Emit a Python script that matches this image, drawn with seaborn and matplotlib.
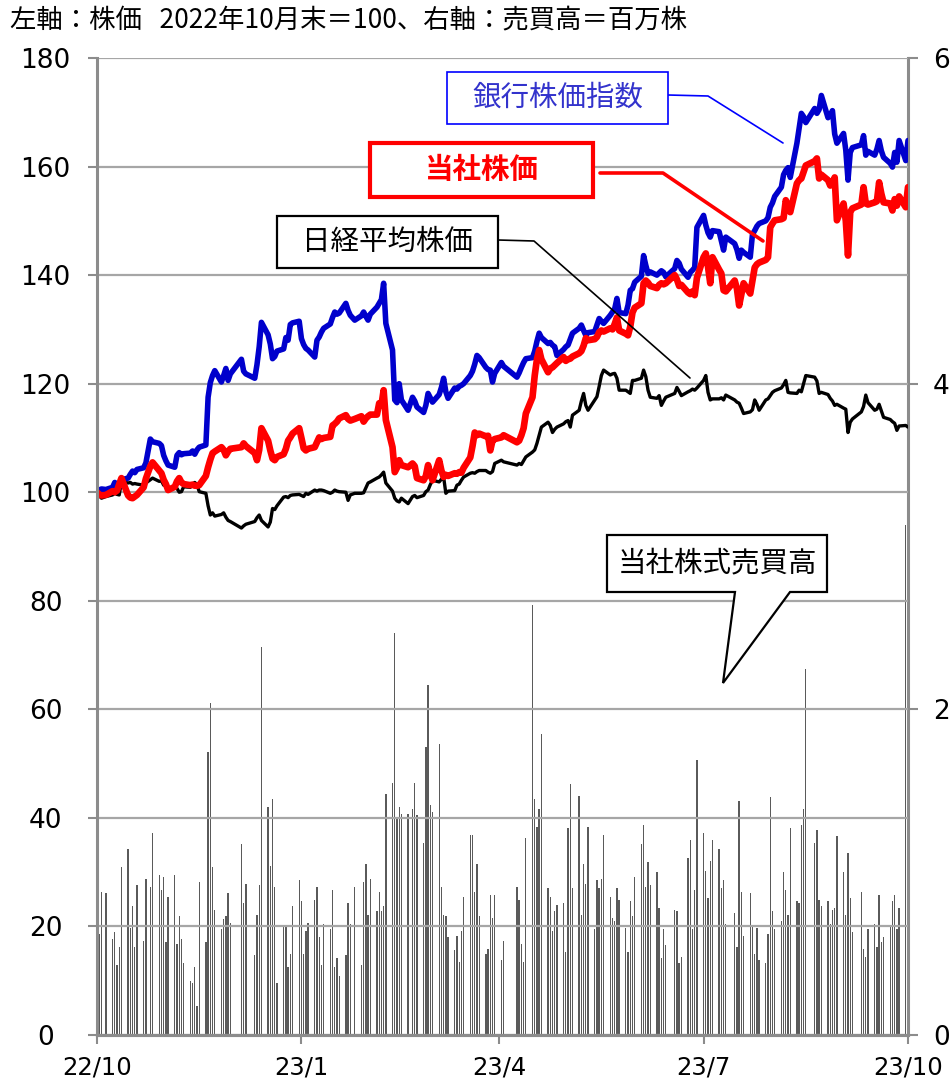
import matplotlib
matplotlib.use("Agg")
import matplotlib.pyplot as plt
from matplotlib.patches import Rectangle, Polygon
from matplotlib.lines import Line2D
import pandas as pd
import seaborn as sns

# Weekday closures of the Tokyo market in the period
market_holidays = [
    "2022-11-03", "2022-11-23", "2023-01-02", "2023-01-03", "2023-01-09",
    "2023-02-23", "2023-03-21", "2023-05-03", "2023-05-04", "2023-05-05",
    "2023-07-17", "2023-08-11", "2023-09-18", "2023-10-09",
]
trade_dates = pd.bdate_range("2022-10-31", "2023-10-31", freq="C",
                             holidays=market_holidays)

# Bank share index, end of Oct 2022 = 100 (one row per month)
bank_index = [
    100.0,
    100.4, 100.6, 100.5, 100.9, 101.8, 101.4, 101.0, 102.3, 102.6, 103.3, 103.9, 103.6, 104.2, 104.5, 105.4, 109.8, 109.3, 109.0, 108.6, 106.8,
    105.8, 105.0, 104.6, 106.8, 107.3, 106.9, 107.1, 107.2, 107.6, 107.0, 107.8, 108.3, 108.7, 117.5, 120.2, 121.5, 122.4, 120.3, 121.5, 122.8, 120.6, 121.8,
    124.5, 122.3, 121.8, 121.0, 123.5, 126.8, 131.3, 129.0, 127.3, 124.6, 125.0, 126.0, 126.4, 128.5, 128.0, 130.9, 131.2, 131.5, 128.3,
    127.2, 126.5, 126.2, 124.9, 128.0, 128.6, 129.5, 130.2, 131.0, 132.2, 133.2, 132.8, 133.0, 134.8, 133.5, 132.6, 131.7, 132.5, 133.2,
    132.4, 131.7, 132.8, 134.1, 134.8, 135.5, 138.5, 131.1, 126.2, 117.0, 116.5, 120.0, 117.0, 115.1, 117.5, 116.8, 115.7, 114.7, 116.0, 118.2, 117.4, 116.6,
    118.0, 119.3, 121.0, 118.5, 117.3, 119.2, 119.0, 119.5, 119.7, 120.0, 121.5, 122.3, 123.6, 125.2, 124.8, 123.0, 122.6, 122.5, 120.3, 121.9,
    123.9, 123.2, 121.2, 122.0, 123.0, 123.9, 124.6, 124.8, 126.0, 127.8, 129.3, 128.5, 127.4, 127.6, 127.1, 126.8, 125.2, 126.3, 126.8, 127.1,
    128.2, 129.3, 130.2, 130.8, 129.8, 128.9, 129.4, 129.6, 130.8, 132.0, 131.5, 131.1, 132.6, 133.2, 133.8, 135.7, 133.1, 132.9, 134.5, 137.2, 137.5, 138.7,
    139.8, 143.6, 141.8, 140.3, 140.6, 140.0, 140.4, 140.8, 140.5, 139.7, 141.2, 142.7, 142.2, 141.1, 139.6, 140.5, 140.9, 141.4, 148.8, 151.0,
    149.2, 147.8, 147.0, 148.2, 148.0, 146.3, 144.6, 147.0, 145.8, 144.7, 143.1, 144.6, 144.2, 143.3, 147.5, 148.2, 149.0, 149.5, 150.0, 150.6, 152.5, 153.3,
    154.5, 156.2, 158.5, 159.3, 159.8, 158.0, 164.3, 167.0, 169.8, 169.2, 168.1, 170.7, 169.8, 170.5, 173.1, 169.0, 169.5, 170.3, 166.0, 164.3,
    166.1, 163.0, 157.5, 162.6, 163.5, 164.0, 165.7, 162.1, 162.8, 162.1, 163.2, 164.8, 162.9, 161.7, 160.6, 159.9, 162.6, 160.8, 164.8, 161.1, 164.8,
]

# Own share price, end of Oct 2022 = 100
company_price = [
    100.0,
    99.6, 99.4, 99.5, 100.2, 100.0, 100.3, 101.5, 102.6, 99.4, 99.0, 98.9, 99.2, 99.5, 100.9, 102.5, 104.8, 105.5, 104.0, 103.5, 102.3,
    101.5, 100.4, 101.0, 102.0, 102.6, 101.8, 101.5, 101.3, 101.4, 101.2, 101.2, 101.3, 103.0, 104.6, 106.0, 107.2, 107.5, 108.3, 107.8, 106.8, 107.5, 108.0,
    108.3, 109.0, 108.5, 107.2, 105.9, 107.8, 111.8, 109.5, 107.7, 106.2, 105.9, 106.5, 107.0, 108.0, 109.5, 110.1, 110.8, 111.8, 110.0,
    108.1, 107.7, 108.0, 108.3, 109.2, 110.1, 109.8, 110.0, 110.2, 112.3, 112.6, 113.0, 113.6, 114.2, 113.5, 113.2, 113.5, 114.0, 113.0,
    113.6, 114.0, 114.3, 114.3, 116.4, 116.0, 118.8, 113.3, 108.3, 103.7, 104.5, 105.9, 105.0, 104.6, 105.3, 104.8, 102.6, 102.2, 103.0, 105.0, 103.4, 102.2,
    105.9, 104.0, 102.8, 103.2, 103.0, 103.5, 103.4, 103.7, 103.6, 104.5, 106.4, 108.5, 111.0, 110.5, 110.8, 110.3, 110.4, 107.7, 109.5, 109.8,
    110.1, 110.5, 109.2, 109.5, 110.5, 111.8, 114.5, 117.5, 121.5, 124.5, 126.2, 124.5, 122.1, 122.8, 123.0, 123.4, 123.8, 124.9, 124.2, 124.5,
    124.6, 125.0, 125.6, 126.0, 127.0, 128.4, 128.0, 128.2, 128.6, 129.5, 129.8, 129.6, 130.2, 130.0, 131.0, 132.2, 129.8, 129.2, 128.9, 130.5, 133.1, 134.0,
    134.8, 138.5, 139.0, 138.6, 138.0, 137.6, 138.2, 138.5, 138.3, 138.5, 140.0, 139.2, 138.0, 138.2, 136.8, 136.5, 137.0, 136.3, 139.5, 143.3,
    144.0, 141.5, 138.5, 143.3, 141.0, 140.3, 137.2, 137.0, 139.0, 137.5, 134.4, 136.5, 138.5, 136.6, 139.0, 141.4, 142.0, 142.3, 142.8, 143.3, 148.8, 149.5,
    150.1, 150.3, 150.5, 153.8, 152.5, 151.6, 156.9, 157.5, 157.8, 159.0, 160.2, 161.0, 161.5, 157.8, 158.5, 157.5, 156.5, 156.8, 158.0, 150.1,
    153.2, 150.0, 143.6, 151.6, 152.3, 153.0, 156.2, 153.2, 153.0, 153.4, 153.6, 157.1, 155.0, 153.4, 153.2, 151.9, 154.0, 152.8, 154.5, 152.5, 156.2,
]

# Nikkei 225, end of Oct 2022 = 100
nikkei_avg = [
    100.0,
    99.4, 98.9, 99.2, 99.5, 99.8, 99.6, 99.5, 102.0, 101.7, 101.8, 101.5, 101.6, 101.5, 101.3, 101.7, 102.3, 102.6, 102.0, 102.1, 101.3,
    101.3, 100.6, 100.8, 100.7, 100.0, 100.1, 101.0, 100.9, 101.5, 101.8, 101.4, 100.1, 99.8, 97.5, 95.8, 96.2, 95.6, 95.9, 96.2, 95.4, 94.8, 94.6,
    93.4, 93.8, 94.1, 94.6, 95.3, 95.8, 94.8, 93.6, 94.5, 97.0, 96.8, 97.5, 99.1, 99.2, 99.0, 99.4, 99.5, 99.6, 99.4,
    99.2, 99.8, 99.6, 100.4, 100.2, 100.4, 100.4, 100.3, 99.8, 100.0, 100.4, 100.2, 100.1, 100.0, 98.5, 99.5, 99.8, 99.8, 99.9,
    100.8, 101.7, 101.9, 102.6, 102.8, 103.2, 103.7, 101.7, 100.2, 98.9, 98.4, 98.2, 98.9, 97.9, 99.2, 99.4, 99.0, 99.4, 100.1, 100.4, 101.4, 102.2,
    101.9, 102.4, 102.8, 99.8, 100.2, 100.3, 101.3, 101.5, 102.2, 102.8, 103.5, 103.6, 103.5, 103.8, 104.0, 104.0, 103.7, 103.5, 103.8, 105.3,
    105.9, 105.6, 105.0, 105.3, 105.1, 105.8, 106.5, 107.4, 107.8, 109.0, 110.5, 112.0, 112.9, 112.3, 111.0, 111.6, 112.0, 112.6, 113.0, 113.2,
    112.0, 114.2, 115.1, 116.8, 118.2, 116.0, 115.1, 117.0, 117.6, 119.5, 121.5, 122.5, 121.6, 121.8, 121.9, 121.0, 118.8, 118.8, 118.5, 118.2, 120.6, 120.6,
    121.0, 122.5, 121.3, 118.8, 117.5, 117.3, 117.8, 116.0, 116.8, 117.5, 118.2, 119.3, 118.6, 117.8, 118.5, 118.7, 119.0, 118.8, 119.2, 120.6,
    121.5, 118.4, 117.0, 117.2, 117.2, 117.4, 117.0, 117.9, 117.0, 116.6, 116.4, 115.5, 114.5, 114.8, 115.2, 117.0, 116.2, 115.1, 117.0, 117.2, 117.8, 118.4,
    118.7, 119.2, 119.8, 120.6, 118.4, 118.3, 118.2, 118.8, 118.5, 120.0, 121.5, 121.2, 120.5, 118.2, 118.4, 118.0, 117.3, 116.8, 116.0, 116.2,
    115.5, 115.3, 111.0, 112.9, 113.5, 114.8, 115.8, 117.9, 116.5, 115.1, 115.3, 116.2, 115.0, 113.8, 113.4, 113.0, 112.7, 111.4, 112.2, 112.3, 112.0,
]

# Daily trading volume of own shares, millions of shares
volume_mn = [
    0.67,
    0.62, 0.88, 0.87, 0.59, 0.63, 0.43, 0.54, 1.03, 1.14, 0.66, 0.79, 0.54, 0.92, 0.58, 0.96, 0.91, 1.24, 0.98, 0.89, 0.97,
    0.57, 0.85, 0.98, 0.56, 0.73, 0.59, 0.44, 0.33, 0.32, 0.42, 0.18, 0.94, 0.57, 1.74, 2.04, 1.03, 0.77, 0.65, 0.71, 0.73, 0.87, 0.69,
    1.17, 0.81, 0.93, 0.49, 0.74, 0.92, 2.38, 1.40, 1.04, 1.45, 0.91, 0.32, 0.67, 0.67, 0.42, 0.50, 0.79, 0.95, 0.82,
    0.50, 0.64, 0.69, 0.83, 0.91, 0.60, 0.43, 0.68, 0.65, 0.89, 0.42, 0.47, 0.36, 0.49, 0.81, 0.68, 0.91, 0.43, 0.94,
    1.05, 0.74, 0.96, 0.76, 0.88, 0.76, 0.79, 1.48, 1.55, 2.47, 1.34, 1.40, 1.36, 1.36, 1.39, 1.55, 1.35, 1.18, 1.77, 2.15, 1.41, 1.37,
    1.79, 0.91, 0.74, 0.73, 0.60, 0.52, 0.61, 0.45, 0.64, 0.85, 1.23, 1.23, 0.88, 1.05, 0.73, 0.50, 0.53, 0.86, 0.72, 0.86,
    0.46, 0.58, 0.91, 0.83, 0.56, 0.45, 1.21, 2.64, 1.45, 1.28, 1.39, 1.85, 0.90, 0.85, 0.64, 0.76, 0.80, 0.81, 0.51, 1.27,
    1.54, 0.90, 1.47, 0.74, 1.05, 0.93, 1.28, 0.65, 0.95, 0.90, 0.96, 1.23, 0.85, 0.72, 0.70, 0.90, 0.83, 0.66, 0.51, 0.82, 0.73, 0.97,
    1.17, 1.29, 0.91, 1.06, 0.92, 1.00, 0.78, 0.47, 0.65, 0.55, 0.77, 0.76, 0.44, 0.48, 1.09, 1.20, 0.65, 0.89, 1.69, 1.24,
    1.01, 0.84, 1.07, 1.20, 1.14, 0.90, 0.95, 0.68, 0.75, 0.54, 1.44, 0.88, 0.61, 0.87, 0.67, 0.50, 0.66, 0.46, 0.44, 0.62, 1.46, 0.76,
    0.65, 0.70, 1.00, 0.89, 0.74, 1.27, 0.82, 0.81, 1.29, 1.39, 2.25, 1.18, 1.26, 0.83, 0.79, 0.82, 0.68, 0.77, 0.78, 1.22,
    1.00, 0.74, 1.12, 0.84, 0.63, 0.88, 0.53, 0.48, 0.65, 0.68, 0.54, 0.86, 0.57, 0.60, 0.67, 0.82, 0.86, 0.65, 0.78, 3.13, 1.38,
]

tick_dates = ["2022-10-31", "2023-01-31", "2023-04-30", "2023-07-31", "2023-10-31"]
tick_labels = ["22/10", "23/1", "23/4", "23/7", "23/10"]
left_ticks = list(range(0, 181, 20))
right_ticks = [0, 2, 4, 6]

n = len(trade_dates)
for name, seq in [("bank_index", bank_index), ("company_price", company_price),
                  ("nikkei_avg", nikkei_avg), ("volume_mn", volume_mn)]:
    assert len(seq) == n, (name, len(seq), n)

sns.set_theme(style="white")
plt.rcParams["font.family"] = ["DejaVu Sans", "Noto Sans CJK JP"]
JP = ["Noto Sans CJK JP", "DejaVu Sans"]
GRAY = "#8c8c8c"

W, H = 953, 1083
fig = plt.figure(figsize=(W / 100, H / 100), dpi=100)
fig.patch.set_facecolor("white")


def fx(px):
    return px / W


def fy(py):
    return 1 - py / H


ax = fig.add_axes([fx(97), fy(1035), (908 - 97) / W, (1035 - 58) / H])
axv = ax.twinx()

# volume bars on the right-hand scale
axv.bar(trade_dates, volume_mn, width=0.6, color="#5a5a5a", linewidth=0)
axv.set_ylim(0, 6)

df = pd.DataFrame({"date": trade_dates, "bank": bank_index,
                   "company": company_price, "nikkei": nikkei_avg})
line_kw = dict(solid_joinstyle="round", solid_capstyle="round")
sns.lineplot(data=df, x="date", y="nikkei", ax=ax, color="black", linewidth=2.4, **line_kw)
sns.lineplot(data=df, x="date", y="bank", ax=ax, color="#0000cc", linewidth=4.0, **line_kw)
sns.lineplot(data=df, x="date", y="company", ax=ax, color="#ff0000", linewidth=4.8, **line_kw)

ax.set_zorder(axv.get_zorder() + 1)
ax.patch.set_visible(False)

ax.set_xlim(pd.Timestamp("2022-10-31"), pd.Timestamp("2023-10-31"))
ax.set_ylim(0, 180)
ax.set_xlabel("")
ax.set_ylabel("")
axv.set_ylabel("")

ax.set_yticks(left_ticks)
ax.set_yticklabels([str(v) for v in left_ticks])
for lab in ax.get_yticklabels():
    lab.set_horizontalalignment("center")
ax.tick_params(axis="y", direction="out", length=6.5, width=1.5, color=GRAY,
               pad=30.5, labelsize=19, labelcolor="black", left=True)
axv.set_yticks(right_ticks)
axv.set_yticklabels([str(v) for v in right_ticks])
axv.tick_params(axis="y", direction="out", length=7, width=1.5, color=GRAY,
                pad=11, labelsize=19, labelcolor="black", right=True)

ax.set_xticks(pd.to_datetime(tick_dates))
ax.set_xticklabels(tick_labels)
ax.tick_params(axis="x", direction="out", length=6.5, width=1.5, color=GRAY,
               pad=8, labelsize=17.5, labelcolor="black", bottom=True)

ax.yaxis.grid(True, color="#a6a6a6", linewidth=1.6)
ax.xaxis.grid(False)
axv.grid(False)

for a in (ax, axv):
    a.spines["top"].set_visible(False)
    for s in ("left", "right", "bottom"):
        a.spines[s].set_color(GRAY)
        a.spines[s].set_linewidth(2.2)
ax.spines["right"].set_visible(False)
axv.spines["left"].set_visible(False)

# header note
fig.text(fx(10), fy(20), "左軸：株価   2022年10月末＝100、右軸：売買高＝百万株",
         ha="left", va="center", fontsize=19, family=JP, color="black")


def label_box(x0, y0, x1, y1, text, edge, lw, color, weight="normal"):
    fig.add_artist(Rectangle((fx(x0), fy(y1)), (x1 - x0) / W, (y1 - y0) / H,
                             transform=fig.transFigure, facecolor="white",
                             edgecolor=edge, linewidth=lw, zorder=5))
    fig.text(fx((x0 + x1) / 2), fy((y0 + y1) / 2), text, ha="center", va="center",
             fontsize=20.5, family=JP, color=color, weight=weight, zorder=6)


def leader(points, color, lw):
    fig.add_artist(Line2D([fx(p[0]) for p in points], [fy(p[1]) for p in points],
                          transform=fig.transFigure, color=color, linewidth=lw,
                          zorder=4))


label_box(447, 72, 668, 124, "銀行株価指数", "#0000ff", 1.2, "#3333cc")
leader([(668, 95), (708, 96), (783, 143)], "#0000ff", 1.2)

label_box(370, 143, 593, 197, "当社株価", "#ff0000", 3.0, "#ff0000", weight="bold")
leader([(600, 173), (663, 173), (763, 241)], "#ff0000", 2.6)

label_box(277, 216, 498, 268, "日経平均株価", "black", 1.6, "black")
leader([(498, 240), (534, 241), (690, 378)], "black", 1.2)

# speech bubble for the volume bars
bubble = [(607, 535), (827, 535), (827, 592), (790, 592), (723, 683),
          (735, 592), (607, 592)]
fig.add_artist(Polygon([(fx(x), fy(y)) for x, y in bubble], closed=True,
                       transform=fig.transFigure, facecolor="white",
                       edgecolor="black", linewidth=1.6, zorder=5))
fig.text(fx(717), fy(563), "当社株式売買高", ha="center", va="center",
         fontsize=20.5, family=JP, color="black", zorder=6)

fig.savefig("out.png", dpi=100)
